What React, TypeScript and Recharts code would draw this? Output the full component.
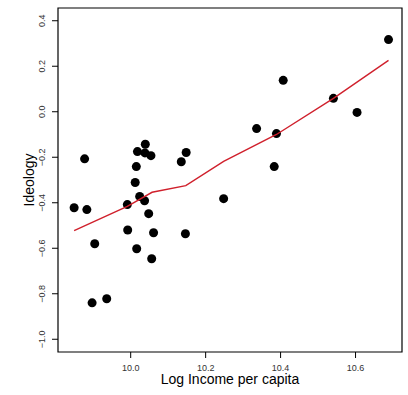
import React from 'react';
import { ScatterChart, Scatter, XAxis, YAxis, ReferenceArea } from 'recharts';

// log income per capita (x) and ideology (y) for each observation
const income = [
  9.849, 9.883, 9.877, 9.904, 9.897, 9.936, 9.991, 9.992, 10.016, 10.012, 10.015,
  10.018, 10.039, 10.038, 10.054, 10.024, 10.037, 10.048, 10.061, 10.056, 10.135,
  10.148, 10.146, 10.248, 10.688, 10.407, 10.541, 10.604, 10.336, 10.389, 10.383,
];
const ideology = [
  -0.422, -0.43, -0.207, -0.58, -0.84, -0.822, -0.408, -0.52, -0.602, -0.311, -0.241,
  -0.175, -0.143, -0.181, -0.193, -0.372, -0.391, -0.448, -0.532, -0.646, -0.22,
  -0.179, -0.536, -0.382, 0.317, 0.138, 0.059, -0.003, -0.074, -0.096, -0.241,
];

// smoothed (lowess) fit
const fitX = [9.849, 9.991, 10.057, 10.147, 10.248, 10.389, 10.541, 10.688];
const fitY = [-0.523, -0.416, -0.354, -0.325, -0.218, -0.1, 0.059, 0.226];

const xTicks = [10.0, 10.2, 10.4, 10.6];
const yTicks = [-1.0, -0.8, -0.6, -0.4, -0.2, 0.0, 0.2, 0.4];

const xDomain = [9.806, 10.724];
const yDomain = [-1.056, 0.456];

const FONT = '"Liberation Sans", Arial, sans-serif';

const points = income.map((x, i) => ({ x, y: ideology[i] }));
const fit = fitX.map((x, i) => ({ x, y: fitY[i] }));

const Dot = (props: any) => <circle cx={props.cx} cy={props.cy} r={4.5} fill="#000" />;

const YTick = ({ x, y, payload }: any) => {
  const bx = x - 5;
  return (
    <text
      x={bx}
      y={y}
      transform={`rotate(-90, ${bx}, ${y})`}
      textAnchor="middle"
      fontSize={9}
      fill="#333"
      fontFamily={FONT}
    >
      {payload.value.toFixed(1).replace('-', '\u2212')}
    </text>
  );
};

export default function App() {
  return (
    <div style={{ position: 'absolute', left: 0, top: 0, width: 408, height: 395, background: '#fff' }}>
      <ScatterChart width={408} height={395} margin={{ top: 8, right: 6, bottom: 0, left: 0 }}>
        <XAxis
          type="number"
          dataKey="x"
          domain={xDomain}
          ticks={xTicks}
          allowDataOverflow
          axisLine={false}
          tickSize={6}
          tickMargin={7}
          height={43}
          tickLine={{ stroke: '#000' }}
          tick={{ fontSize: 9, fill: '#333', fontFamily: FONT }}
          tickFormatter={(v: number) => v.toFixed(1)}
          label={{
            content: ({ viewBox }: any) => (
              <text
                x={viewBox.x + viewBox.width / 2}
                y={viewBox.y + 32}
                textAnchor="middle"
                fontSize={14}
                fill="#000"
                fontFamily={FONT}
              >
                Log Income per capita
              </text>
            ),
          }}
        />
        <YAxis
          type="number"
          dataKey="y"
          domain={yDomain}
          ticks={yTicks}
          allowDataOverflow
          axisLine={false}
          width={58}
          tickSize={6}
          tickLine={{ stroke: '#000' }}
          tick={<YTick />}
          label={{
            content: ({ viewBox }: any) => {
              const cx = viewBox.x + viewBox.width - 24;
              const cy = viewBox.y + viewBox.height / 2;
              return (
                <text
                  x={cx}
                  y={cy}
                  transform={`rotate(-90, ${cx}, ${cy})`}
                  textAnchor="middle"
                  fontSize={14}
                  fill="#000"
                  fontFamily={FONT}
                >
                  Ideology
                </text>
              );
            },
          }}
        />
        <ReferenceArea
          x1={xDomain[0]}
          x2={xDomain[1]}
          y1={yDomain[0]}
          y2={yDomain[1]}
          fill="none"
          stroke="#000"
          strokeWidth={1.2}
          ifOverflow="visible"
        />
        <Scatter data={points} shape={<Dot />} isAnimationActive={false} />
        <Scatter
          data={fit}
          line={{ stroke: '#d0202c', strokeWidth: 1.4 }}
          lineType="joint"
          shape={() => null}
          isAnimationActive={false}
        />
      </ScatterChart>
    </div>
  );
}
